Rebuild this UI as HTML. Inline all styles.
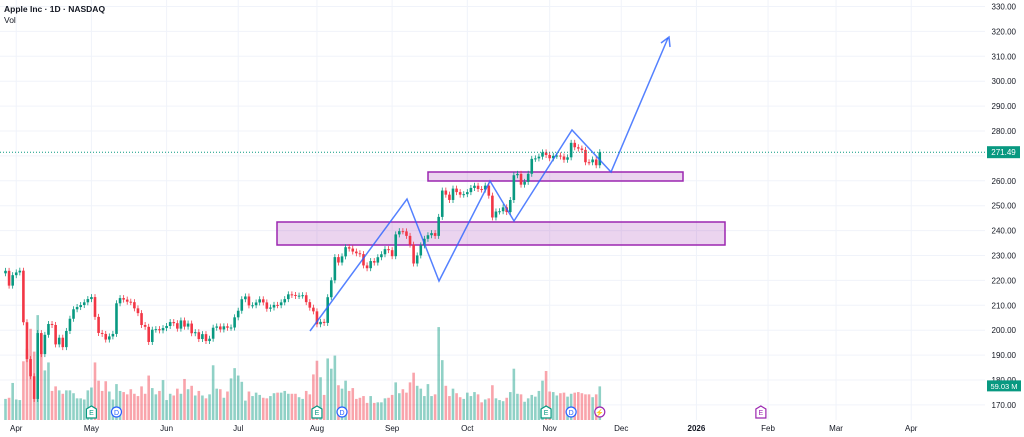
<!DOCTYPE html>
<html><head><meta charset="utf-8"><style>
body{margin:0;background:#fff;width:1024px;height:437px;overflow:hidden;font-family:"Liberation Sans",sans-serif}
svg{display:block}
</style></head><body>
<svg id="chart" width="1024" height="437" xmlns="http://www.w3.org/2000/svg">
<g id="grid"></g>
<g id="vol"></g>
<g id="zones">
<rect x="277" y="222" width="448" height="23" fill="rgba(156,39,176,0.2)" stroke="#9c27b0" stroke-width="1.5"/>
<rect x="428" y="172" width="255" height="9" fill="rgba(156,39,176,0.2)" stroke="#9c27b0" stroke-width="1.5"/>
</g>
<g id="candles"></g>
<polyline points="310,331 407,199 439,281 490,181 514,221 572,130 611,172 668,38" fill="none" stroke="#2962ff" stroke-opacity="0.8" stroke-width="1.5"/>
<polyline points="661,43 669,37 670,47" fill="none" stroke="#2962ff" stroke-opacity="0.8" stroke-width="1.5"/>
<line id="pline" x1="0" x2="985" stroke="#089981" stroke-dasharray="1,2" stroke-width="1"/>
<g id="yaxis"></g>
<g id="xaxis"></g>
<g id="events"></g>
<text x="4" y="12" font-size="8.5" font-weight="bold" fill="#131722">Apple Inc · 1D · NASDAQ</text>
<text x="4" y="23" font-size="8.5" fill="#131722">Vol</text>
</svg>
<script>
const closes=[223.85,217.9,222.1,223.2,223.9,203.2,188.4,181.5,172.4,198.85,190.4,198.15,202.5,202.1,194.3,196.98,193.2,199.7,204.6,208.4,209.3,210.1,211.2,212.5,213.3,205.35,198.9,198.5,196.25,197.5,198.5,210.8,212.9,212.3,211.45,211.26,208.78,206.86,202.09,201.36,195.27,200.21,200.42,199.95,200.85,201.7,203.27,202.82,200.63,203.92,201.45,202.67,198.78,199.2,196.45,198.42,195.64,196.58,201.0,201.5,200.3,201.56,201.0,201.08,205.17,207.82,212.44,213.55,209.95,210.01,211.14,212.41,211.16,208.62,209.11,210.16,210.02,211.18,212.48,214.4,214.15,213.76,213.88,214.05,211.27,209.05,207.57,202.38,203.35,202.92,213.25,220.03,229.35,227.18,229.65,233.33,232.78,231.59,230.89,230.56,226.01,224.9,227.76,227.16,229.31,230.49,232.56,232.14,229.72,238.47,239.78,239.69,237.88,234.35,226.79,230.03,234.07,236.7,238.15,238.99,237.88,245.5,256.08,254.43,252.31,256.87,255.46,254.43,254.63,255.45,257.13,258.02,256.69,256.48,258.06,254.04,245.27,247.66,247.77,249.34,247.45,252.29,262.24,262.77,258.45,259.58,262.82,268.81,269.0,269.7,271.4,270.37,269.05,270.04,270.14,269.77,268.47,269.43,275.25,273.47,272.95,272.41,267.46,267.44,268.56,266.25,271.49];
const volumes=[37,39,65,36,35,103,125,160,120,184,121,87,101,51,59,52,46,52,52,47,38,38,36,52,57,101,69,51,68,50,36,63,51,49,45,54,46,42,59,46,78,56,45,51,70,35,46,43,55,46,72,54,60,43,51,43,38,45,96,55,54,39,50,73,91,78,67,34,50,42,48,44,39,38,42,47,48,48,51,46,46,46,40,37,51,45,80,104,75,44,108,90,113,61,55,69,51,56,37,39,42,30,42,30,31,31,38,39,44,66,47,54,48,66,83,60,55,42,63,42,45,163,105,60,42,55,47,40,37,48,42,49,45,31,36,38,61,38,35,33,39,49,90,46,45,32,38,44,41,51,69,86,50,49,43,47,48,41,46,48,49,47,45,45,40,45,59];
const priceTicks=[330,320,310,300,290,280,270,260,250,240,230,220,210,200,190,180,170];
const monthLabels=["Apr","May","Jun","Jul","Aug","Sep","Oct","Nov","Dec","2026","Feb","Mar","Apr"];
const monthIdx=[3,24,45,65,87,108,129,152,172,193,213,232,253];
const lastPrice=271.49, lastVol="59.03 M";
const NS="http://www.w3.org/2000/svg";
const X=i=>5.5+i*3.58;
const Y=p=>6.5+(330-p)*2.49;
const VY=v=>420-v*0.57;
function mk(t,a,par){const e=document.createElementNS(NS,t);for(const k in a)e.setAttribute(k,a[k]);document.getElementById(par).appendChild(e);return e;}
priceTicks.forEach(p=>{
 const l=mk('line',{x1:0,x2:985,y1:Y(p),y2:Y(p),stroke:'#f0f3fa'},'grid');
 
 
 if(p===270)return;
 const t=mk('text',{x:1016,y:Y(p)+3,'font-size':8,'text-anchor':'end',fill:'#131722'},'yaxis');
 
 
 t.textContent=p.toFixed(2);
});
monthIdx.forEach((ix,k)=>{
 const x=X(ix);
 const l=mk('line',{x1:x,x2:x,y1:0,y2:420,stroke:'#f0f3fa'},'grid');
 
 
 const t=mk('text',{x:x,y:431,'font-size':8,'text-anchor':'middle',fill:'#131722','font-weight':monthLabels[k]==='2026'?'bold':'normal'},'xaxis');
 
 
 t.textContent=monthLabels[k];
});
closes.forEach((c,i)=>{
 const o=i?closes[i-1]:c-1;
 const up=c>=o;
 const x=X(i);
 const col=up?'#089981':'#f23645';
 const vb=mk('rect',{x:x-1.3,y:VY(volumes[i]),width:2.6,height:volumes[i]*0.57,fill:up?'rgba(8,153,129,0.45)':'rgba(242,54,69,0.45)'},'vol');
 
 
 const hi=Math.max(o,c),lo=Math.min(o,c);
 const w=mk('line',{x1:x,x2:x,y1:Y(hi)-3,y2:Y(lo)+3,stroke:col,'stroke-width':0.8},'candles');
 
 
 const b=mk('rect',{x:x-1.3,y:Y(hi),width:2.6,height:Math.max(1,Y(lo)-Y(hi)),fill:col},'candles');
 
 
});
const pl=document.getElementById('pline');pl.setAttribute('y1',Y(lastPrice));pl.setAttribute('y2',Y(lastPrice));
let r=mk('rect',{x:987,y:Y(lastPrice)-6,width:33,height:12,fill:'#089981'},'yaxis');


let t=mk('text',{x:1003.5,y:Y(lastPrice)+3,'font-size':8,'text-anchor':'middle',fill:'#fff'},'yaxis');


t.textContent=lastPrice.toFixed(2);
r=mk('rect',{x:987,y:VY(volumes[volumes.length-1])-6,width:34,height:11,fill:'#089981'},'yaxis');


t=mk('text',{x:1004,y:VY(volumes[volumes.length-1])+2.5,'font-size':7.5,'text-anchor':'middle',fill:'#fff'},'yaxis');


t.textContent=lastVol;
const evLabels=["E","D","E","D","E","D","⚡","E"];
const evIdx=[24,31,87,94,151,158,166,211];
const evCol=["#089981","#2962ff","#089981","#2962ff","#089981","#2962ff","#9c27b0","#9c27b0"];
evIdx.forEach((ix,k)=>{
 const x=X(ix),c=evCol[k];
 let s;
 if(evLabels[k]==='D'||evLabels[k]==='⚡') s=mk('circle',{cx:x,cy:412,r:5,fill:'#fff',stroke:c,'stroke-width':1.2},'events');
 else s=mk('path',{d:`M${x-5},409 L${x},406 L${x+5},409 L${x+5},418 L${x-5},418 Z`,fill:'#fff',stroke:c,'stroke-width':1.2},'events');
 
 
 const tt=mk('text',{x:x,y:415,'font-size':7,'text-anchor':'middle',fill:c},'events');
 
 
 tt.textContent=evLabels[k];
});
</script>
</body></html>
